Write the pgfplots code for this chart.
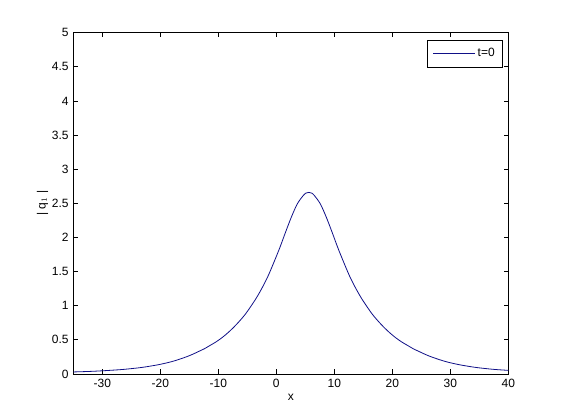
\documentclass[border=0pt]{standalone}
\usepackage{pgfplots}
\pgfplotsset{compat=1.18}
\usepackage{fontspec}
\setmainfont{Liberation Sans}
\definecolor{mblue}{RGB}{15,15,135}
\begin{document}
\begin{tikzpicture}[x=1pt,y=1pt]
\begin{axis}[
  scale only axis,
  width=326.25pt, height=256pt,
  xmin=-35, xmax=40, ymin=0, ymax=5,
  xtick={-30,-20,...,40},
  ytick={0,0.5,...,5},
  tick align=inside,
  major tick length=3.4pt,
  xtick pos=both, ytick pos=both,
  axis line style={line width=0.6pt},
  every tick/.style={black, line width=0.6pt},
  /pgf/number format/assume math mode=true,
  ticklabel style={font=\fontsize{9}{10}\selectfont},
  yticklabel style={/pgf/number format/fixed},
  xlabel={x}, ylabel={| q$_1$ |},
  label style={font=\fontsize{9}{10}\selectfont},
  xlabel style={yshift=2pt},
  ylabel style={yshift=-4pt},
  legend style={at={(0.988,0.978)}, anchor=north east, draw=black, line width=0.6pt,
    font=\fontsize{9}{10}\selectfont, inner xsep=4pt, inner ysep=4pt, legend cell align=left},
  legend image code/.code={\draw[mblue, line width=0.6pt] (0pt,0pt) -- (31pt,0pt);},
]
\addplot[mblue, line width=0.6pt, smooth] coordinates {
(-35,0.030) (-32.4,0.037) (-30.4,0.045) (-28.4,0.055) (-26.4,0.067) (-24.4,0.084)
(-23.4,0.094) (-22.4,0.106) (-21.4,0.120) (-20.4,0.135) (-19.4,0.153) (-18.4,0.173)
(-17.4,0.197) (-16.4,0.225) (-15.4,0.255) (-14.4,0.29) (-13.4,0.33) (-12.4,0.37)
(-11.4,0.42) (-10.4,0.47) (-9.4,0.53) (-8.4,0.60) (-7.4,0.68) (-6.4,0.77)
(-5.4,0.87) (-4.4,0.99) (-3.4,1.12) (-2.4,1.27) (-1.4,1.44) (-0.4,1.64)
(0.6,1.85) (1.6,2.08) (2.6,2.30) (3.6,2.49) (4.6,2.61) (5.1,2.65) (5.6,2.66) (6.1,2.65)
(6.6,2.61) (7.6,2.49) (8.6,2.30) (9.6,2.08) (10.6,1.85) (11.6,1.64)
(12.6,1.44) (13.6,1.27) (14.6,1.12) (15.6,0.99) (16.6,0.87) (17.6,0.77)
(18.6,0.68) (19.6,0.60) (20.6,0.53) (21.6,0.47) (22.6,0.42) (23.6,0.37)
(24.6,0.33) (25.6,0.29) (26.6,0.255) (27.6,0.225) (28.6,0.197) (29.6,0.173)
(30.6,0.153) (31.6,0.135) (32.6,0.120) (33.6,0.106) (34.6,0.094) (35.6,0.084)
(37.6,0.067) (40,0.053)
};
\addlegendentry{t=0}
\end{axis}
\path[use as bounding box] (-55pt,-34.5pt) rectangle (365.75pt,280.5pt);
\end{tikzpicture}
\end{document}
